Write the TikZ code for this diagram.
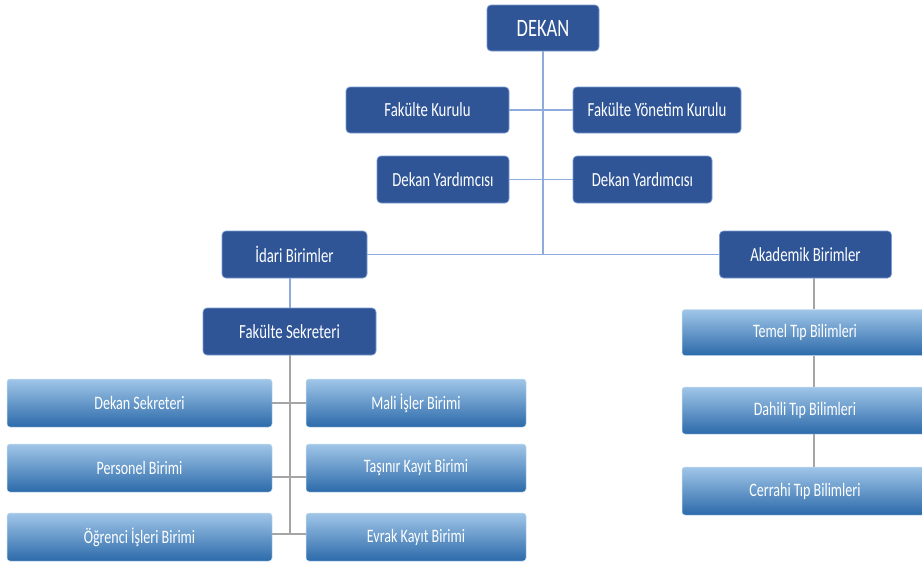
\documentclass[tikz,border=0pt]{standalone}
\usepackage{fontspec}
\setmainfont{Carlito}[FakeStretch=0.74]
\definecolor{darkbox}{RGB}{47,85,151}
\definecolor{darkedge}{RGB}{125,155,210}
\definecolor{toplink}{RGB}{143,170,220}
\definecolor{greylink}{RGB}{165,165,165}
\definecolor{gtop}{RGB}{160,198,232}
\definecolor{gmid}{RGB}{88,150,210}
\definecolor{gbot}{RGB}{44,106,170}
\tikzset{
  darkbox/.style={rectangle, rounded corners=4pt, fill=darkbox, draw=darkedge, line width=0.7pt,
    text=white, inner sep=0pt, font=\fontsize{20}{22}\selectfont},
  gradbox/.style={rectangle, rounded corners=3pt, top color=gtop, middle color=gmid, bottom color=gbot,
    draw=gtop!60!white, line width=0.5pt, text=white, inner sep=0pt, font=\fontsize{19}{21}\selectfont},
  toplink/.style={draw=toplink, line width=1.4pt},
  greylink/.style={draw=greylink, line width=1.2pt},
}
\begin{document}
\begin{tikzpicture}[x=1pt,y=-1pt]
\useasboundingbox[fill=white] (0,0) rectangle (922,562);
\coordinate (tj) at (543,255);
% dark boxes
\node[darkbox, minimum width=112pt, minimum height=46pt, font=\fontsize{25}{27}\selectfont] (dekan) at (543,28) {DEKAN};
\node[darkbox, minimum width=163pt, minimum height=46pt] (fk) at (427.5,110) {Fakülte Kurulu};
\node[darkbox, minimum width=168pt, minimum height=46pt] (fyk) at (657,110) {Fakülte Yönetim Kurulu};
\node[darkbox, minimum width=132pt, minimum height=47pt] (dy1) at (443,179.5) {Dekan Yardımcısı};
\node[darkbox, minimum width=139pt, minimum height=47pt] (dy2) at (642.5,179.5) {Dekan Yardımcısı};
\node[darkbox, minimum width=145pt, minimum height=47pt] (idari) at (294.5,254.5) {İdari Birimler};
\node[darkbox, minimum width=172pt, minimum height=47pt] (akad) at (805.5,254.5) {Akademik Birimler};
\node[darkbox, minimum width=173pt, minimum height=47pt] (fs) at (289.5,331.5) {Fakülte Sekreteri};
% gradient boxes left
\node[gradbox, minimum width=265pt, minimum height=48pt] (ds) at (139.5,403) {Dekan Sekreteri};
\node[gradbox, minimum width=265pt, minimum height=48pt] (pb) at (139.5,468) {Personel Birimi};
\node[gradbox, minimum width=265pt, minimum height=48pt] (ob) at (139.5,537) {Öğrenci İşleri Birimi};
\node[gradbox, minimum width=220pt, minimum height=48pt] (mi) at (416,403) {Mali İşler Birimi};
\node[gradbox, minimum width=220pt, minimum height=48pt] (tk) at (416,468) {Taşınır Kayıt Birimi};
\node[gradbox, minimum width=220pt, minimum height=48pt] (ek) at (416,537) {Evrak Kayıt Birimi};
% gradient boxes right
\node[gradbox, minimum width=260pt, minimum height=46pt] (ttb) at (812,332.5) {\hspace*{-14pt}Temel Tıp Bilimleri};
\node[gradbox, minimum width=260pt, minimum height=47pt] (dtb) at (812,410.5) {\hspace*{-14pt}Dahili Tıp Bilimleri};
\node[gradbox, minimum width=260pt, minimum height=48pt] (ctb) at (812,491) {\hspace*{-14pt}Cerrahi Tıp Bilimleri};
% top connectors
\draw[toplink] (dekan.south) -- (tj);
\draw[toplink] (fk.east) -- (fyk.west);
\draw[toplink] (dy1.east) -- (dy2.west);
\draw[toplink] (idari.east) -- (akad.west);
\draw[toplink] (idari.south -| 290,0) -- (fs.north -| 290,0);
% bottom left connectors
\coordinate (bl) at (290,534);
\draw[greylink] (fs.south -| bl) -- (bl);
\draw[greylink] (ds.east) -- (mi.west);
\draw[greylink] (pb.east |- 0,477) -- (tk.west |- 0,477);
\draw[greylink] (ob.east |- bl) -- (ek.west |- bl);
% right connectors
\draw[greylink] (akad.south -| 814,0) -- (ttb.north -| 814,0);
\draw[greylink] (ttb.south -| 814,0) -- (dtb.north -| 814,0);
\draw[greylink] (dtb.south -| 814,0) -- (ctb.north -| 814,0);
\end{tikzpicture}
\end{document}
